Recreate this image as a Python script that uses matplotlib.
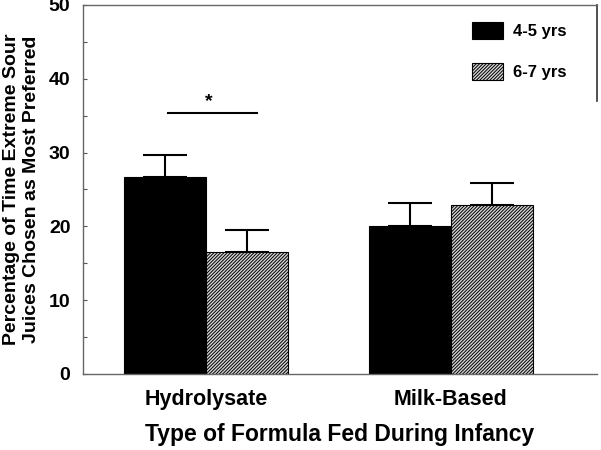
import numpy as np
import matplotlib
matplotlib.use("Agg")
import matplotlib.pyplot as plt

plt.rcParams["font.family"] = ["Liberation Sans", "DejaVu Sans"]
plt.rcParams["hatch.linewidth"] = 0.7
plt.rcParams["hatch.color"] = "#333333"

groups = ["Hydrolysate", "Milk-Based"]
series = ["4-5 yrs", "6-7 yrs"]
means_45 = [26.7, 20.0]
means_67 = [16.5, 22.9]
err_45 = [3.0, 3.1]
err_67 = [3.0, 3.0]
sig_y = 35.4

fig = plt.figure(figsize=(6.01, 4.5), dpi=100)
ax = fig.add_axes([0.138, 0.169, 0.855, 0.82])

x = np.arange(len(groups))
w = 0.335
ax.bar(x - w / 2, means_45, w, color="black", edgecolor="black", linewidth=0.8,
       label=series[0], zorder=2)
ax.bar(x + w / 2, means_67, w, color="#d4d4d4", edgecolor="black", linewidth=0.8,
       hatch="//////////", label=series[1], zorder=2)
ax.errorbar(x - w / 2, means_45, yerr=[np.zeros(2), err_45], fmt="none",
            ecolor="black", elinewidth=1.5, capsize=15.5, capthick=1.5, zorder=1)
ax.errorbar(x + w / 2, means_67, yerr=[np.zeros(2), err_67], fmt="none",
            ecolor="black", elinewidth=1.5, capsize=15.5, capthick=1.5, zorder=1)

# significance bar
ax.plot([x[0] - 0.155, x[0] + 0.21], [sig_y, sig_y], color="black", lw=1.5)
ax.text(x[0] + 0.01, sig_y + 0.3, "*", ha="center", va="bottom",
        fontsize=14, fontweight="bold")

ax.set_xlim(-0.502, 1.596)
ax.set_ylim(0, 50)
ax.set_yticks(np.arange(0, 51, 10))
ax.set_yticks(np.arange(5, 50, 10), minor=True)
ax.tick_params(axis="y", which="both", direction="in", length=3, width=0.8,
               colors="#555555", labelcolor="black", labelsize=14, pad=9)
ax.tick_params(axis="x", length=0, labelsize=15.5, pad=11)
for lab in ax.get_yticklabels() + ax.get_xticklabels():
    lab.set_fontweight("bold")
ax.set_xticks(x)
ax.set_xticklabels(groups)

for s in ["left", "bottom", "top"]:
    ax.spines[s].set_color("#666666")
    ax.spines[s].set_linewidth(1.0)
ax.spines["right"].set_visible(False)
ax.plot([1, 1], [1, 0.74], transform=ax.transAxes, color="#333333", lw=1.2,
        clip_on=False)

ax.set_xlabel("Type of Formula Fed During Infancy", fontsize=16.5,
              fontweight="bold", labelpad=9)
ax.set_ylabel("Percentage of Time Extreme Sour\nJuices Chosen as Most Preferred",
              fontsize=14, fontweight="bold", labelpad=6, linespacing=1.3)

leg = ax.legend(loc="upper left", bbox_to_anchor=(0.757, 0.954), frameon=False,
                fontsize=12, handlelength=1.86, handleheight=1.2,
                labelspacing=1.45, handletextpad=0.6, borderpad=0,
                borderaxespad=0)
for t in leg.get_texts():
    t.set_fontweight("bold")

fig.savefig("out.png", dpi=100)
